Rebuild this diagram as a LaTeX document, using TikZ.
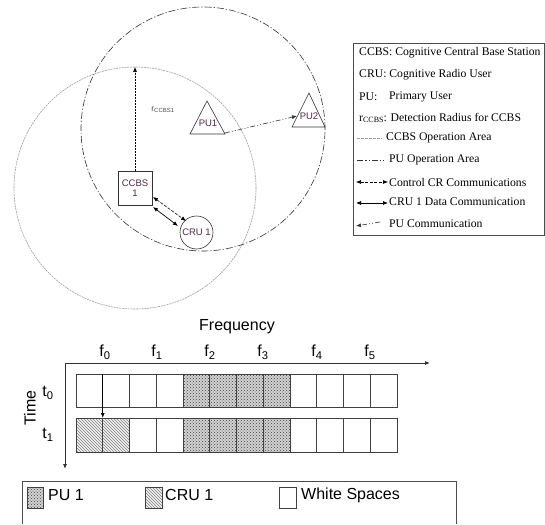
\documentclass[tikz,border=0pt]{standalone}
\usepackage{fontspec}
\setmainfont{Liberation Serif}
\newfontfamily\ar{Liberation Sans}
\usetikzlibrary{arrows.meta,patterns}
\definecolor{lbl}{rgb}{0.32,0.16,0.30}
\begin{document}
\begin{tikzpicture}[x=1pt,y=-1pt,
  tip/.style={-{Latex[length=5pt,width=4pt]}},
  dtip/.style={{Latex[length=5pt,width=4pt]}-{Latex[length=5pt,width=4pt]}},
  ccbsarea/.style={gray!75,line width=0.6pt,dash pattern=on 2pt off 0.8pt},
  puarea/.style={black!80,line width=0.6pt,dash pattern=on 7pt off 2pt on 1.2pt off 2pt},
  pucomm/.style={black!80,line width=0.6pt,dash pattern=on 5pt off 2pt on 1pt off 2pt on 1pt off 2pt},
  ctrl/.style={black,line width=0.6pt,dash pattern=on 3pt off 1.5pt},
  elem/.style={draw=black!80,line width=0.6pt,font=\ar\fontsize{9.5}{10}\selectfont,text=lbl,inner sep=1pt},
  leg/.style={anchor=west,font=\fontsize{11.7}{12}\selectfont,inner sep=0pt},
  big/.style={font=\ar\fontsize{16}{17}\selectfont,inner sep=0pt},
  cell/.style={draw=black!75,line width=0.8pt},
  pudots/.style={pattern=crosshatch dots,pattern color=black!75},
  cruhatch/.style={pattern=north west lines,pattern color=gray}]
\useasboundingbox (0,0) rectangle (545,524);
\fill[white] (0,0) rectangle (545,524);

% ---------- top network ----------
\draw[ccbsarea] (135,188) circle[radius=121pt];
\draw[puarea] (203,129) circle[radius=122pt];

\node[elem,minimum width=34pt,minimum height=34pt,align=center] (ccbs) at (135,188) {CCBS\\1};
\node[elem,circle,minimum size=33pt] (cru) at (196.5,232.5) {CRU 1};

% PU triangles
\draw[black!80,line width=0.6pt] (207,101) -- (225,134) -- (190,134) -- cycle;
\node[font=\ar\fontsize{9.5}{10}\selectfont,text=lbl,inner sep=0pt] (pu1) at (208,123) {PU1};
\coordinate (pu1c) at (225,133);
\draw[black!80,line width=0.6pt] (309,93) -- (325,127) -- (292,127) -- cycle;
\node[font=\ar\fontsize{9.5}{10}\selectfont,text=lbl,inner sep=0pt] (pu2) at (309,116) {PU2};
\coordinate (pu2c) at (297,116);

\coordinate (rtop) at (135,67);
\draw[ctrl,tip,dash pattern=on 2pt off 1pt] (ccbs.north) -- (rtop);
\node[font=\ar\fontsize{8.5}{9}\selectfont,text=black!70,inner sep=0pt] (rlab) at (163,110) {r\textsubscript{CCBS1}};

\draw[pucomm,tip] (pu1c) -- (pu2c);

\coordinate (c1) at (153,197); \coordinate (c2) at (186,221);
\coordinate (d1) at (153,207); \coordinate (d2) at (178,226);
\draw[ctrl,dtip] (c1) -- (c2);
\draw[black,line width=0.7pt,dtip] (d1) -- (d2);

% ---------- legend (top right) ----------
\draw[black!70,line width=0.6pt] (353.5,43) rectangle (544.5,235);
\node[leg] (l1) at (359,53) {CCBS: Cognitive Central Base Station};
\node[leg] (l2) at (359,75) {CRU: Cognitive Radio User};
\node[leg] (l3a) at (359,97) {PU:};
\node[leg] (l3) at (389,97) {Primary User};
\node[leg] (l4) at (359,118) {r{\fontsize{8}{9}\selectfont\raisebox{-1.5pt}{CCBS}}: Detection Radius for CCBS};
\node[leg] (l5) at (386,138) {CCBS Operation Area};
\node[leg] (l6) at (389,160) {PU Operation Area};
\node[leg] (l7) at (389,182) {Control CR Communications};
\node[leg] (l8) at (389,202) {CRU 1 Data Communication};
\node[leg] (l9) at (389,224) {PU Communication};
\coordinate (s5a) at (357,138); \coordinate (s5b) at (382,138);
\draw[ccbsarea,dash pattern=on 2.5pt off 1.5pt] (s5a) -- (s5b);
\coordinate (s6a) at (357,160); \coordinate (s6b) at (384,160);
\draw[puarea,dash pattern=on 6pt off 2pt on 1.5pt off 2pt on 1pt off 2pt] (s6a) -- (s6b);
\coordinate (s7a) at (356,182); \coordinate (s7b) at (388,182);
\draw[ctrl,dtip] (s7a) -- (s7b);
\coordinate (s8a) at (356,203); \coordinate (s8b) at (388,203);
\draw[black,line width=0.7pt,dtip] (s8a) -- (s8b);
\coordinate (s9a) at (356,226); \coordinate (s9b) at (380,222);
\draw[pucomm,tip] (s9b) -- (s9a);

% ---------- spectrum grid ----------
\node[big] (freq) at (237,327) {Frequency};
\foreach \i/\x in {0/105,1/157,2/210,3/263,4/317,5/370}
  \node[big] (f\i) at (\x,352) {f\textsubscript{\i}};
\node[big] (t0) at (48,393) {t\textsubscript{0}};
\node[big] (t1) at (48,435) {t\textsubscript{1}};
\node[big,rotate=90] (time) at (30,408) {Time};

\coordinate (org) at (65,363);
\coordinate (fend) at (430,363);
\coordinate (tend) at (65,469);
\draw[black!80,line width=0.8pt,tip] (org) -- (fend);
\draw[black!80,line width=0.8pt,tip] (org) -- (tend);

% pattern fills
\fill[gray!35] (183.0,374) rectangle (290.0,407);
\fill[pudots] (183.0,374) rectangle (290.0,407);
\fill[gray!35] (183.0,418) rectangle (290.0,452);
\fill[pudots] (183.0,418) rectangle (290.0,452);
\fill[gray!10] (76,418) rectangle (129.5,452);
\fill[cruhatch] (76,418) rectangle (129.5,452);

\foreach \r/\ya/\yb in {0/374/407,1/418/452}{
  \foreach \i in {0,...,11}{
    \draw[cell] ({76+\i*26.75},\ya) rectangle ({76+(\i+1)*26.75},\yb);
  }
}
\coordinate (sa) at (102.75,374);
\coordinate (sb) at (102.75,418);
\draw[black,line width=0.8pt,tip] (sa) -- (sb);

% ---------- bottom legend ----------
\draw[black!70,line width=0.8pt] (22,524) -- (22,481) -- (456,481) -- (456,524);
\fill[gray!35] (27,487) rectangle (43,508);
\fill[pudots] (27,487) rectangle (43,508);
\draw[cell,line width=0.6pt] (27,487) rectangle (43,508);
\node[big,anchor=west] (k1) at (48,495) {PU 1};
\fill[gray!10] (145,487) rectangle (162,508);
\fill[cruhatch] (145,487) rectangle (162,508);
\draw[cell,line width=0.6pt] (145,487) rectangle (162,508);
\node[big,anchor=west] (k2) at (165,495) {CRU 1};
\draw[cell,line width=0.6pt] (279,487) rectangle (296,508);
\node[big,anchor=west] (k3) at (301,495) {White Spaces};
\end{tikzpicture}
\end{document}
